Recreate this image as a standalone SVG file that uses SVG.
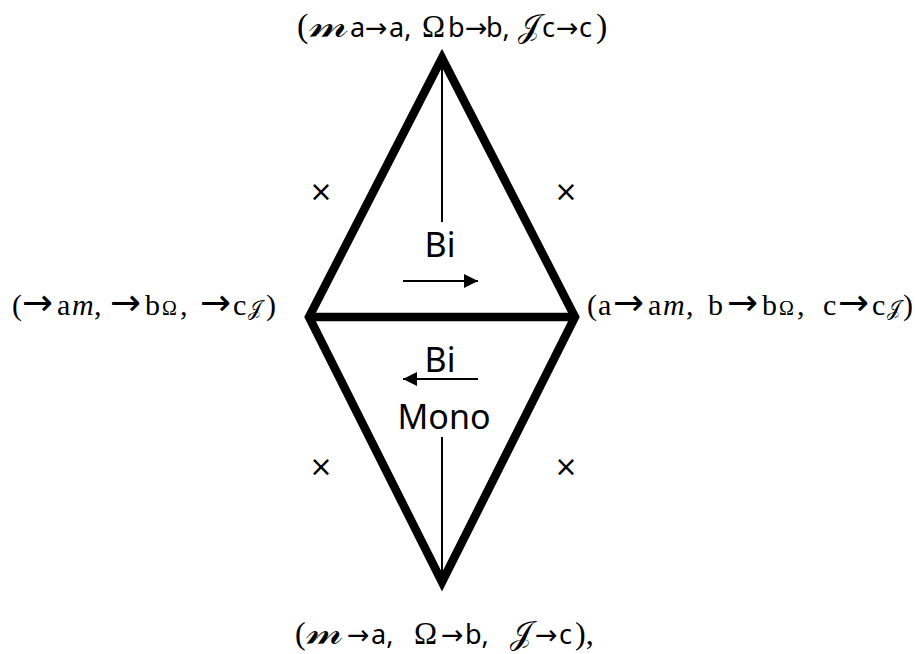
<svg xmlns="http://www.w3.org/2000/svg" width="915" height="654" viewBox="0 0 915 654">
<style>
.serif{font-family:"Liberation Serif","DejaVu Serif",serif;fill:#000}
.sans{font-family:"Noto Sans","Open Sans",sans-serif;fill:#000}
.arw{font-family:"DejaVu Sans",sans-serif}
.scr{font-family:"DejaVu Serif","DejaVu Sans",serif;font-style:normal;fill:#000}
.thin{stroke:#000;stroke-width:2;fill:none}
.x{font-family:"DejaVu Sans",sans-serif;font-size:28px;fill:#000}
</style>
<defs>
<marker id="ah" viewBox="0 0 10 10" refX="10" refY="5" markerWidth="15" markerHeight="14" markerUnits="userSpaceOnUse" orient="auto">
<path d="M0,0 L10,5 L0,10 Z" fill="#000"/>
</marker>
</defs>
<g id="connectors">
<path d="M442,58 L309,317 L442,582 L575,317 Z M309,317 H575" fill="none" stroke="#000" stroke-width="8.5" stroke-linejoin="miter" stroke-miterlimit="10"/>
<line class="thin" x1="442" y1="58" x2="442" y2="222"/>
<line class="thin" x1="442" y1="437" x2="442" y2="582"/>
<line class="thin" x1="403" y1="281" x2="478" y2="281" marker-end="url(#ah)"/>
<line class="thin" x1="478" y1="379" x2="403" y2="379" marker-end="url(#ah)"/>
</g>
<g id="node-top">
<text y="37" class="serif" font-size="34"><tspan x="297">(</tspan><tspan class="sans" font-size="27"><tspan x="350">a</tspan><tspan x="365" class="arw">→</tspan><tspan x="389">a,</tspan></tspan><tspan x="422" font-size="31">Ω</tspan><tspan class="sans" font-size="27"><tspan x="448">b</tspan><tspan x="465" class="arw">→</tspan><tspan x="486">b,</tspan></tspan><tspan x="518" class="scr" font-size="32">𝒥</tspan><tspan class="sans" font-size="27"><tspan x="542">c</tspan><tspan x="556" class="arw">→</tspan><tspan x="579">c</tspan></tspan><tspan x="596">)</tspan></text>
<text class="scr" font-size="38" transform="translate(309,37) scale(1.22,1)">𝓂</text>
</g>
<g id="node-left">
<text y="315" class="serif" font-size="30"><tspan x="12">(</tspan><tspan x="22" class="arw" font-size="37">→</tspan><tspan x="57">a</tspan><tspan x="72" font-style="italic">m</tspan><tspan x="94">,</tspan><tspan x="110" class="arw" font-size="37">→</tspan><tspan x="145">b</tspan><tspan x="162" font-size="20">Ω</tspan><tspan x="180">,</tspan><tspan x="200" class="arw" font-size="37">→</tspan><tspan x="233">c</tspan><tspan x="248" class="scr" font-size="20">𝒥</tspan><tspan x="266">)</tspan></text>
</g>
<g id="node-right">
<text y="315" class="serif" font-size="30"><tspan x="587">(</tspan><tspan x="598">a</tspan><tspan x="613" class="arw" font-size="37">→</tspan><tspan x="648">a</tspan><tspan x="663" font-style="italic">m</tspan><tspan x="686">,</tspan><tspan x="708">b</tspan><tspan x="727" class="arw" font-size="37">→</tspan><tspan x="762">b</tspan><tspan x="779" font-size="20">Ω</tspan><tspan x="797">,</tspan><tspan x="823">c</tspan><tspan x="838" class="arw" font-size="37">→</tspan><tspan x="872">c</tspan><tspan x="887" class="scr" font-size="20">𝒥</tspan><tspan x="903">)</tspan></text>
</g>
<g id="node-bottom">
<text y="644" class="serif" font-size="32"><tspan x="295">(</tspan><tspan class="sans" font-size="27"><tspan x="347" class="arw">→</tspan><tspan x="371">a,</tspan></tspan><tspan x="414" font-size="31">Ω</tspan><tspan class="sans" font-size="27"><tspan x="441" class="arw">→</tspan><tspan x="465">b,</tspan></tspan><tspan x="510" class="scr" font-size="32">𝒥</tspan><tspan class="sans" font-size="27"><tspan x="535" class="arw">→</tspan><tspan x="559">c</tspan></tspan><tspan x="575">),</tspan></text>
<text class="scr" font-size="36" transform="translate(306,644) scale(1.22,1)">𝓂</text>
</g>
<g id="labels">
<text x="440" y="257" class="sans" font-size="34" text-anchor="middle">Bi</text>
<text x="440" y="372" class="sans" font-size="34" text-anchor="middle">Bi</text>
<text x="444" y="429" class="sans" font-size="34" text-anchor="middle">Mono</text>
<text x="321" y="201" class="x" text-anchor="middle">×</text>
<text x="566" y="201" class="x" text-anchor="middle">×</text>
<text x="321" y="476" class="x" text-anchor="middle">×</text>
<text x="566" y="476" class="x" text-anchor="middle">×</text>
</g>
</svg>
